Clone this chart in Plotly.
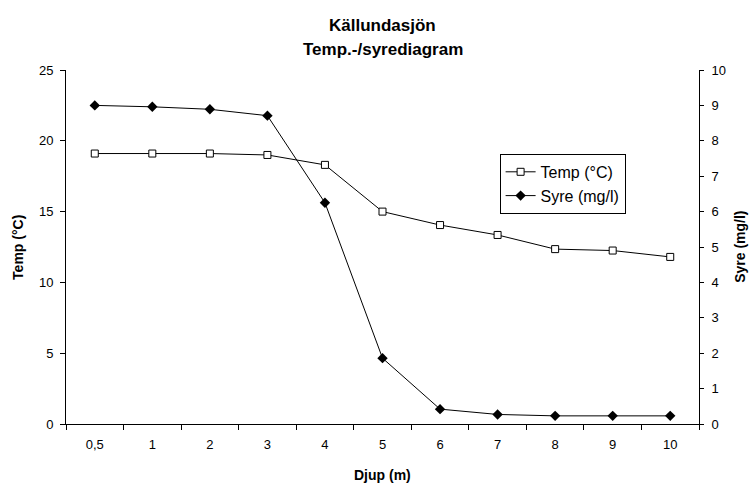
import plotly.graph_objects as go

depth_labels = ["0,5", "1", "2", "3", "4", "5", "6", "7", "8", "9", "10"]
temp_c = [19.1, 19.1, 19.1, 19.0, 18.3, 15.0, 14.05, 13.35, 12.35, 12.25, 11.8]
syre_mgl = [9.0, 8.96, 8.89, 8.71, 6.25, 1.86, 0.42, 0.27, 0.23, 0.23, 0.23]
title_lines = ["Källundasjön", "Temp.-/syrediagram"]

FONT = "Liberation Sans, Arial, sans-serif"

fig = go.Figure()
fig.add_trace(go.Scatter(
    x=depth_labels, y=temp_c, name="Temp (°C)", mode="lines+markers",
    legendgroup="t",
    line=dict(color="black", width=1),
    marker=dict(symbol="square", size=7, color="white", line=dict(color="black", width=1)),
    yaxis="y"))
fig.add_trace(go.Scatter(
    x=depth_labels, y=syre_mgl, name="Syre (mg/l)", mode="lines+markers",
    legendgroup="s",
    line=dict(color="black", width=1),
    marker=dict(symbol="diamond", size=8, color="black", line=dict(color="black", width=0)),
    yaxis="y2"))

for txt, yp in zip(title_lines, [1.1243, 1.0565]):
    fig.add_annotation(text="<b>%s</b>" % txt, xref="paper", yref="paper", x=0.5, y=yp,
                       xanchor="center", yanchor="middle", showarrow=False,
                       font=dict(family=FONT, size=17, color="black"))

# axis titles as annotations (fixed positions)
fig.add_annotation(text="<b>Djup (m)</b>", xref="paper", yref="paper", x=0.5, y=-0.144,
                   xanchor="center", yanchor="middle", showarrow=False, font=dict(size=14))
fig.add_annotation(text="<b>Temp (°C)</b>", xref="paper", yref="paper", x=-0.076, y=0.5,
                   xanchor="center", yanchor="middle", textangle=-90, showarrow=False,
                   font=dict(size=14))
fig.add_annotation(text="<b>Syre (mg/l)</b>", xref="paper", yref="paper", x=1.0645, y=0.5,
                   xanchor="center", yanchor="middle", textangle=-90, showarrow=False,
                   font=dict(size=14))

fig.update_layout(
    width=753, height=486,
    margin=dict(l=66, r=54, t=70, b=62, autoexpand=False),
    paper_bgcolor="white", plot_bgcolor="white",
    font=dict(family=FONT, size=13, color="black"),
    xaxis=dict(type="category", range=[-0.5, 10.5], showline=True, linecolor="black", linewidth=1,
               ticks="outside", ticklen=5, tickcolor="black", tickson="boundaries",
               showgrid=False, zeroline=False, ticklabelstandoff=8, automargin=False,
               tickfont=dict(size=13)),
    yaxis=dict(range=[0, 25], dtick=5, showline=True, linecolor="black", linewidth=1,
               ticks="outside", ticklen=5, tickcolor="black", showgrid=False, zeroline=False,
               ticklabelstandoff=4, automargin=False,
               tickfont=dict(size=13)),
    yaxis2=dict(range=[0, 10], dtick=1, overlaying="y", side="right",
                showline=True, linecolor="black", linewidth=1,
                ticks="outside", ticklen=4, tickcolor="black", showgrid=False, zeroline=False,
                ticklabelstandoff=5, automargin=False,
                tickfont=dict(size=13)),
    legend=dict(x=0.685, y=0.763, xanchor="left", yanchor="top",
                bordercolor="black", borderwidth=1, bgcolor="white",
                font=dict(size=16), tracegroupgap=0, itemwidth=30),
    showlegend=True,
)

fig.write_html("out.html")
